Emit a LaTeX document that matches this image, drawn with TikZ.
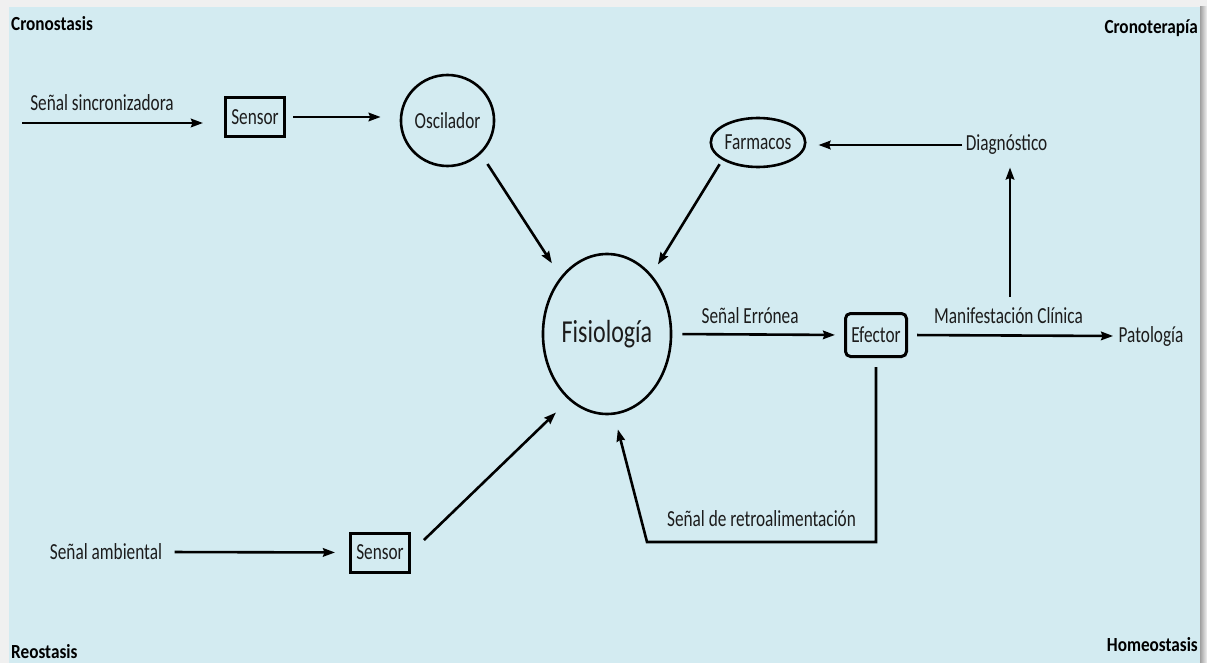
\documentclass[tikz,border=0pt]{standalone}
\usepackage{fontspec}
\setmainfont{Carlito}[FakeStretch=0.75]
\newfontfamily\cornerfont{Carlito}[FakeStretch=0.86]
\usetikzlibrary{arrows.meta,positioning,shapes.geometric,calc}
\definecolor{panelblue}{RGB}{211,235,241}
\definecolor{inkgray}{RGB}{28,28,28}

\begin{document}
\begin{tikzpicture}[
		x=1pt, y=-1pt,
		> = {Stealth[length=12pt,width=8.5pt,inset=1.5pt]},
		every node/.style={font=\fontsize{23}{26}\selectfont, text=inkgray},
		ellnode/.style={draw, ellipse, line width=2.6pt, inner sep=0pt},
		sensbox/.style={draw, rectangle, line width=3pt, minimum width=59pt, minimum height=39pt, inner sep=2pt},
		corner/.style={font=\cornerfont\fontsize{20}{23}\selectfont\bfseries, text=black, inner sep=0pt},
		lbl/.style={inner sep=0pt},
		sig/.style={->, line width=2.6pt}
		]
		\useasboundingbox (0,0) rectangle (1207,663);
		\fill[gray!12] (0,0) rectangle (1207,663);
		\fill[panelblue] (9,7) rectangle (1200,663);
		\shade[left color=gray!75, right color=gray!10] (1200,7) rectangle (1207,663);
		
		% states
		\node[ellnode, minimum width=79pt, minimum height=91pt] (osc) at (447.5,120.5) {Oscilador};
		\node[ellnode, minimum width=84pt, minimum height=49pt] (farm) at (758,142.5) {Farmacos};
		\node[ellnode, minimum width=118pt, minimum height=160pt, font=\fontsize{32}{36}\selectfont] (fisio) at (607,334) {Fisiología};
		\node[sensbox] (sens1) at (255,117) {Sensor};
		\node[sensbox] (sens2) at (380,552.5) {Sensor};
		\node[sensbox, rounded corners=5pt, minimum width=61pt, minimum height=43pt] (efector) at (876,335) {Efector};
		\node (diag) at (1006.5,145) {Diagnóstico};
		\node (pato) at (1151,336) {Patología};
		\node (amb) at (106,552) {Señal ambiental};
		\coordinate (in1) at (22,123);
		\coordinate (mc) at (1010,297);
		\coordinate (fbc) at (647,542);
		
		% corners
		\node[corner, anchor=west] (crono) at (11,24) {Cronostasis};
		\node[corner, anchor=east] (cterap) at (1198,28) {Cronoterapía};
		\node[corner, anchor=west] (reo) at (11,652) {Reostasis};
		\node[corner, anchor=east] (homeo) at (1198,645) {Homeostasis};
		
		% Draw the signal arrows
		\draw[sig, shorten >=21pt] (in1) -- node[lbl, above=11.5pt, xshift=-21pt] {Señal sincronizadora} (sens1.west |- in1);
		\draw[sig, shorten <=7pt, shorten >=19pt] (sens1.east) -- (sens1.east -| osc.west);
		\draw[sig, shorten <=12pt, shorten >=16pt] (osc.-45) -- (fisio.129);
		\draw[sig, shorten <=5pt, shorten >=12pt] (farm.206) -- (fisio.53);
		\draw[sig, shorten <=9pt, shorten >=14pt] (amb.east) -- (sens2.west);
		\draw[sig, shorten <=18pt, shorten >=18pt] (sens2.east) -- (fisio.240);
		\draw[sig, shorten <=10pt, shorten >=9pt] (fisio.east) -- node[lbl, above=10pt, xshift=-8pt] {Señal Errónea} (efector.west);
		\draw[sig, shorten <=9pt, shorten >=2pt] (efector.east) -- node[lbl, above=11pt, xshift=-3pt] {Manifestación Clínica} (pato.west);
		\draw[sig, shorten >=9pt] (mc) -- (mc |- diag.south);
		\draw[sig, shorten >=12pt] (diag.west) -- (diag.west -| farm.east);
		\draw[sig, shorten <=9pt, shorten >=15pt] (efector.south) |- node[lbl, pos=0.75, above=14.5pt] {Señal de retroalimentación} (fbc) -- (fisio.-85);
	\end{tikzpicture}
\end{document}
